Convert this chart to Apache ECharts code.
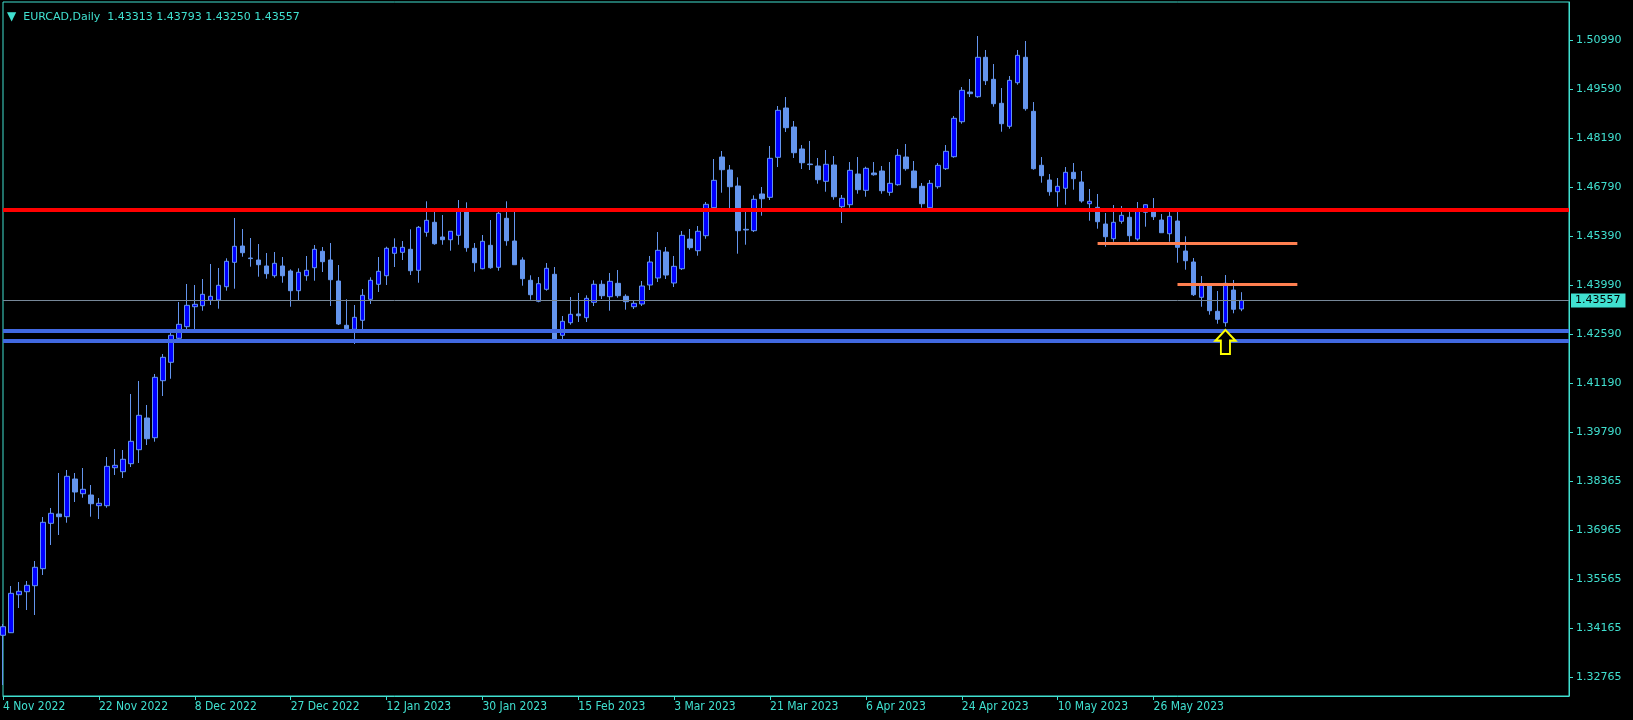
<!DOCTYPE html>
<html>
<head>
<meta charset="utf-8">
<script src="https://cdn.jsdelivr.net/npm/echarts@6/dist/echarts.min.js"></script>
<style>
html,body{margin:0;padding:0;background:#000;}
#chart{width:1633px;height:720px;}
</style>
</head>
<body>
<div id="chart"></div>
<script>
// ---- data (EURCAD daily) ----
const symbolTitle = 'EURCAD,Daily';
const opens = [1.33986,1.34060,1.35146,1.35232,1.35404,1.35890,1.37187,1.37453,1.37376,1.38453,1.38033,1.37996,1.37690,1.37690,1.38776,1.38662,1.38891,1.39291,1.40197,1.39634,
1.41263,1.41789,1.42475,1.42807,1.43378,1.43407,1.43561,1.43570,1.43950,1.44647,1.45113,1.44770,1.44713,1.44542,1.44264,1.44542,1.44399,1.43836,1.44264,1.44493,
1.44962,1.44713,1.44113,1.42847,1.42732,1.42990,1.43590,1.44019,1.44264,1.44905,1.44933,1.45019,1.44419,1.45505,1.45791,1.45371,1.45293,1.45419,1.46134,1.45048,
1.44464,1.45133,1.44505,1.45905,1.45256,1.44713,1.44133,1.43533,1.43876,1.44304,1.42561,1.42921,1.43170,1.43064,1.43504,1.44019,1.43664,1.44047,1.43676,1.43378,
1.43456,1.43999,1.44199,1.44942,1.44056,1.44464,1.45313,1.44979,1.45408,1.46208,1.47657,1.47286,1.46828,1.45591,1.45551,1.46600,1.46505,1.47649,1.49058,1.48515,
1.47886,1.47457,1.47400,1.46963,1.47429,1.46237,1.46294,1.47171,1.46705,1.47200,1.47257,1.46648,1.46865,1.47657,1.47257,1.46820,1.46208,1.46808,1.47323,1.47666,
1.48666,1.49515,1.49381,1.50507,1.49878,1.49192,1.48535,1.49781,1.50507,1.48963,1.47420,1.47000,1.46665,1.46763,1.47220,1.46943,1.46322,1.46219,1.45742,1.45322,
1.45819,1.45934,1.45313,1.46077,1.46162,1.45856,1.45465,1.45828,1.44970,1.44656,1.43647,1.43999,1.43247,1.42921,1.43855,1.43313];
const highs = [1.34309,1.35395,1.35509,1.35538,1.36110,1.37367,1.37625,1.38625,1.38711,1.38625,1.38768,1.38282,1.37910,1.39082,1.39311,1.39282,1.40883,1.41255,1.40569,1.41455,
1.42026,1.42732,1.43513,1.44027,1.43999,1.44170,1.44599,1.44485,1.44762,1.45914,1.45599,1.45342,1.45170,1.44913,1.44942,1.44799,1.44447,1.44476,1.44828,1.45142,
1.45085,1.45199,1.44570,1.43590,1.43427,1.43884,1.44219,1.44799,1.45093,1.45333,1.45256,1.45591,1.45685,1.46391,1.46134,1.45999,1.45534,1.46428,1.46362,1.45199,
1.45428,1.45856,1.46094,1.46391,1.46171,1.44790,1.44276,1.44227,1.44627,1.44513,1.43112,1.43656,1.43770,1.43704,1.44133,1.44133,1.44342,1.44427,1.43733,1.43541,
1.44113,1.44828,1.45513,1.45085,1.44828,1.45542,1.45599,1.45685,1.46371,1.47600,1.47829,1.47429,1.47077,1.46171,1.46562,1.46800,1.47972,1.49115,1.49372,1.48686,
1.48000,1.48115,1.47629,1.47857,1.47686,1.46571,1.47514,1.47657,1.47380,1.47514,1.47400,1.47514,1.47886,1.48029,1.47543,1.46914,1.47000,1.47486,1.48000,1.48829,
1.49658,1.49887,1.51116,1.50716,1.50315,1.49629,1.49972,1.50716,1.50973,1.49229,1.47657,1.47171,1.47057,1.47371,1.47486,1.47257,1.46743,1.46600,1.46057,1.46285,
1.46257,1.46171,1.46371,1.46305,1.46485,1.46028,1.46142,1.46114,1.45391,1.44770,1.44256,1.44027,1.43827,1.44284,1.44142,1.43793];
const lows = [1.32565,1.34052,1.34766,1.34709,1.34566,1.35710,1.36567,1.36853,1.37204,1.37796,1.37919,1.37376,1.37310,1.37633,1.38568,1.38482,1.38796,1.38911,1.39425,1.39520,
1.40826,1.41320,1.42427,1.42635,1.42732,1.43264,1.43427,1.43321,1.43836,1.43893,1.44807,1.44522,1.44236,1.44179,1.44207,1.44064,1.43378,1.43570,1.44121,1.44121,
1.44370,1.43398,1.42855,1.42692,1.42312,1.42712,1.43456,1.43799,1.43999,1.44513,1.44713,1.44284,1.44064,1.45379,1.45150,1.45150,1.44979,1.45150,1.44950,1.44379,
1.44447,1.44464,1.44407,1.45122,1.44579,1.43979,1.43578,1.43504,1.43836,1.42355,1.42361,1.42864,1.42941,1.42941,1.43398,1.43598,1.43264,1.43635,1.43293,1.43313,
1.43398,1.43856,1.44084,1.44170,1.43941,1.44427,1.45008,1.44836,1.45322,1.46151,1.46637,1.46151,1.44893,1.45150,1.45513,1.45979,1.46428,1.47371,1.48372,1.47629,
1.47314,1.47286,1.46894,1.46665,1.46437,1.45771,1.46208,1.46608,1.46522,1.47123,1.46608,1.46551,1.46837,1.47266,1.46780,1.46208,1.46179,1.46751,1.47286,1.47637,
1.48609,1.49372,1.49352,1.49715,1.49095,1.48380,1.48466,1.49724,1.48981,1.47294,1.46923,1.46551,1.46237,1.46294,1.46723,1.46351,1.45836,1.45608,1.45093,1.45236,
1.45751,1.45236,1.45265,1.45665,1.45856,1.45493,1.45236,1.44636,1.44436,1.43684,1.43378,1.43150,1.42892,1.42807,1.43190,1.43250];
const closes = [1.34232,1.35186,1.35244,1.35415,1.35930,1.37216,1.37473,1.37376,1.38531,1.38082,1.38159,1.37747,1.37759,1.38816,1.38845,1.39017,1.39531,1.40274,1.39605,1.41360,
1.41932,1.42561,1.42875,1.43418,1.43447,1.43733,1.43676,1.43990,1.44676,1.45105,1.44922,1.44753,1.44579,1.44322,1.44619,1.44264,1.43836,1.44362,1.44419,1.45019,
1.44665,1.44150,1.42884,1.42750,1.43075,1.43704,1.44133,1.44390,1.45048,1.45076,1.45076,1.44407,1.45648,1.45848,1.45179,1.45293,1.45534,1.46134,1.45065,1.44636,
1.45248,1.44493,1.46048,1.45265,1.44579,1.44179,1.43721,1.44036,1.44476,1.42378,1.42961,1.43161,1.43121,1.43618,1.44019,1.43693,1.44104,1.43693,1.43521,1.43475,
1.43970,1.44656,1.44990,1.44284,1.44533,1.45419,1.45065,1.45534,1.46305,1.46991,1.47294,1.46808,1.45551,1.45571,1.46448,1.46465,1.47620,1.48992,1.48495,1.47780,
1.47494,1.47440,1.47008,1.47449,1.46522,1.46477,1.47277,1.46723,1.47334,1.47151,1.46694,1.46905,1.47706,1.47323,1.46780,1.46322,1.46905,1.47420,1.47820,1.48763,
1.49564,1.49467,1.50507,1.49838,1.49181,1.48609,1.49849,1.50564,1.49038,1.47323,1.47123,1.46665,1.46820,1.47220,1.47037,1.46400,1.46391,1.45808,1.45379,1.45791,
1.45991,1.45408,1.46105,1.46294,1.45951,1.45493,1.45962,1.45076,1.44693,1.43721,1.43990,1.43264,1.43018,1.44047,1.43304,1.43557];

const yTickValues = [1.50990,1.49590,1.48190,1.46790,1.45390,1.43990,1.42590,1.41190,1.39790,1.38390,1.36990,1.35590,1.34190,1.32790];
const yTickLabels = ['1.50990','1.49590','1.48190','1.46790','1.45390','1.43990','1.42590','1.41190','1.39790','1.38365','1.36965','1.35565','1.34165','1.32765'];

const redLevel = 1.46142;
const blueLevels = [1.42684, 1.42397];
const orangeSegments = [[137, 162, 1.45190], [147, 162, 1.44019]]; // [fromBar, toBar, price]
const lastPrice = 1.43557;
const arrowMark = [153, 1.42712]; // [bar, price]
const missingDays = ['2022-12-26'];
const slotCount = 197;

// ---- categories: trading days ----
const MON = ['Jan','Feb','Mar','Apr','May','Jun','Jul','Aug','Sep','Oct','Nov','Dec'];
const dates = [];
(function(){
  const d = new Date(Date.UTC(2022, 10, 4));
  while (dates.length < slotCount) {
    const wd = d.getUTCDay();
    const iso = d.toISOString().slice(0, 10);
    if (wd !== 0 && wd !== 6 && missingDays.indexOf(iso) < 0) {
      dates.push(d.getUTCDate() + ' ' + MON[d.getUTCMonth()] + ' ' + d.getUTCFullYear());
    }
    d.setUTCDate(d.getUTCDate() + 1);
  }
})();

const candles = opens.map((o, i) => [o, closes[i], lows[i], highs[i]]);
const nBars = candles.length;

const CYAN = '#40E0D0';
const chart = echarts.init(document.getElementById('chart'), null, {renderer: 'canvas'});

const markLineData = [
  {yAxis: redLevel, lineStyle: {color: '#FF0000', width: 4, type: 'solid'}},
  ...blueLevels.map(v => ({yAxis: v, lineStyle: {color: '#4169E1', width: 4, type: 'solid'}})),
  ...orangeSegments.map(s => [
    {coord: [dates[s[0]], s[2]], lineStyle: {color: '#FF7F50', width: 3, type: 'solid'}},
    {coord: [dates[s[1]], s[2]]}
  ]),
  {yAxis: lastPrice, lineStyle: {color: '#778899', width: 1, type: 'solid'},
   label: {show: true, position: 'end', distance: 2, formatter: () => lastPrice.toFixed(5),
     backgroundColor: CYAN, color: '#000', fontFamily: 'DejaVu Sans', fontSize: 11,
     padding: [2, 5, 1, 4]}}
];

const tickFilter = (i) => i % 12 === 0 && i < nBars;

chart.setOption({
  backgroundColor: '#000000',
  animation: false,
  title: {
    text: '{a|▼}{s|}' + symbolTitle + '  ' + [opens[nBars-1], highs[nBars-1], lows[nBars-1], closes[nBars-1]].map(v => v.toFixed(5)).join(' '),
    left: 2, top: 6,
    textStyle: {color: CYAN, fontSize: 11, fontWeight: 'normal', fontFamily: 'DejaVu Sans',
      rich: {a: {fontSize: 12, color: CYAN}, s: {width: 7}}}
  },
  grid: {left: 3, right: 64, top: 2, bottom: 24, show: true, borderColor: CYAN, borderWidth: 1, backgroundColor: 'transparent'},
  xAxis: {
    type: 'category',
    data: dates,
    boundaryGap: false,
    axisLine: {show: true, lineStyle: {color: CYAN}},
    axisTick: {show: true, length: 4, interval: tickFilter, lineStyle: {color: CYAN}},
    axisLabel: {interval: tickFilter, align: 'left', color: CYAN, fontSize: 12, margin: 5,
      fontFamily: "'Liberation Sans Narrow', 'DejaVu Sans Condensed', sans-serif"},
    splitLine: {show: false}
  },
  yAxis: {
    type: 'value',
    position: 'right',
    min: 1.32251, max: 1.52088,
    axisLine: {show: true, lineStyle: {color: CYAN}},
    axisTick: {show: true, length: 4, customValues: yTickValues, lineStyle: {color: CYAN}},
    axisLabel: {customValues: yTickValues, color: CYAN, fontSize: 11, margin: 7, fontFamily: 'DejaVu Sans',
      padding: [3, 0, 0, 0], hideOverlap: false,
      formatter: (v) => { const i = yTickValues.findIndex(t => Math.abs(t - v) < 1e-7); return i >= 0 ? yTickLabels[i] : ''; }},
    splitLine: {show: false}
  },
  series: [{
    type: 'candlestick',
    data: candles,
    barWidth: 5,
    itemStyle: {color: '#0000FF', color0: '#6495ED', borderColor: '#6495ED', borderColor0: '#6495ED', borderWidth: 1},
    markLine: {symbol: ['none', 'none'], silent: true, animation: false, precision: 5, label: {show: false}, data: markLineData},
    markPoint: {
      silent: true, animation: false, precision: 5,
      data: [{
        coord: [dates[arrowMark[0]], arrowMark[1]],
        symbol: 'path://M11,0 L22,11 L16,11 L16,25 L6,25 L6,11 L0,11 Z',
        symbolSize: [20, 24], symbolKeepAspect: false, symbolOffset: [0, '50%'],
        itemStyle: {color: '#000', borderColor: '#FFFF00', borderWidth: 2},
        label: {show: false}
      }]
    }
  }]
});
</script>
</body>
</html>
